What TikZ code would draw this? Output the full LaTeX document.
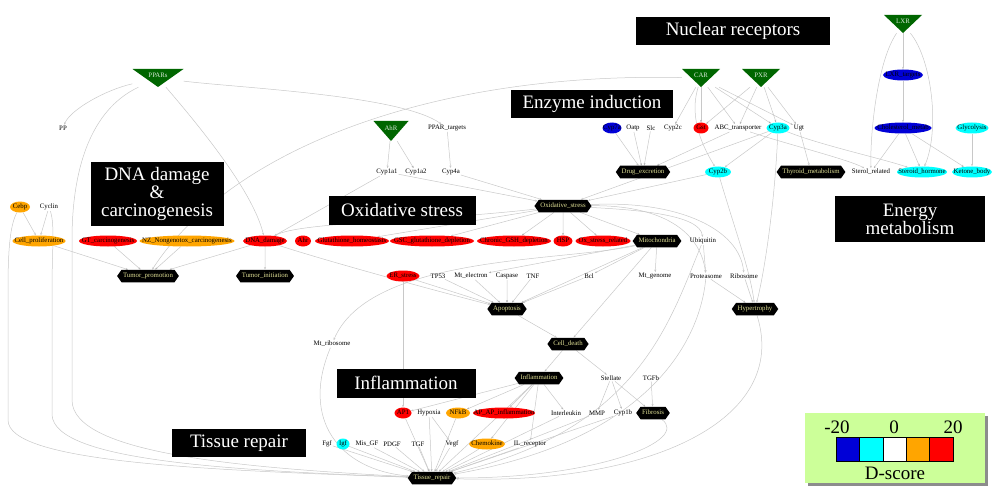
\documentclass[tikz,border=0pt]{standalone}
\usepackage{fontspec}
\setmainfont{Liberation Serif}
\usepackage{tikz}
\usetikzlibrary{arrows.meta}
\usetikzlibrary{shapes.geometric,shapes.symbols,shadows,backgrounds}

\definecolor{nrgreen}{RGB}{0,102,0}
\definecolor{upred}{RGB}{255,0,0}
\definecolor{uporange}{RGB}{255,165,0}
\definecolor{dncyan}{RGB}{0,255,255}
\definecolor{dnblue}{RGB}{0,0,215}
\definecolor{linkgray}{RGB}{200,200,200}
\definecolor{hextext}{RGB}{225,225,150}
\definecolor{legendbg}{RGB}{204,255,153}

\tikzset{
  small/.style={font=\fontsize{6.8}{7}\selectfont},
  gene/.style={small, inner sep=0.8pt},
  ell/.style={small, ellipse, inner sep=0pt, minimum height=11pt,
    text height=4.6pt, text depth=1.2pt,
    execute at begin node=\hbox to 0pt\bgroup\hss,
    execute at end node=\hss\egroup},
  redell/.style={ell, fill=upred},
  orangeell/.style={ell, fill=uporange},
  cyanell/.style={ell, fill=dncyan},
  blueell/.style={ell, fill=dnblue},
  proc/.style={small, shape=signal, signal to=west and east, signal pointer angle=110,
    fill=black, text=hextext, inner xsep=1.5pt, inner ysep=2pt, minimum height=12.5pt,
    text height=4.6pt, text depth=1.2pt},
  nr/.style={small, minimum width=38pt, minimum height=18pt, inner sep=0pt,
    text=white!85!nrgreen, text height=4.5pt, text depth=6pt,
    path picture={\fill[nrgreen] (path picture bounding box.north west) -- (path picture bounding box.north east) -- (path picture bounding box.south) -- cycle;}},
  topic/.style={fill=black, text=white, font=\fontsize{19}{18}\selectfont, align=center,
    inner sep=0pt, minimum height=28pt},
  link/.style={draw=linkgray, line width=0.5pt, -{Stealth[length=2.5pt,width=2pt]}},
  legbox/.style={fill=legendbg, minimum width=180pt, minimum height=70pt,
    drop shadow={shadow xshift=3pt, shadow yshift=-3pt, fill=black!45, opacity=1}},
  dcell/.style={draw=black, line width=0.6pt, minimum width=23.4pt, minimum height=24pt, inner sep=0pt},
  legtext/.style={font=\fontsize{19}{19}\selectfont, inner sep=0pt}
}

\begin{document}
\begin{tikzpicture}[x=1pt,y=-1pt]
		\useasboundingbox (0,0) rectangle (1000,497);
		% modules
		\node[topic, minimum width=194pt] (nuc) at (733,31) {Nuclear receptors};
		\node[topic, minimum width=162pt] (enz) at (592,104) {Enzyme induction};
		\node[topic, minimum width=133pt, minimum height=64pt] (dna) at (157,194) {DNA damage\\\&\\carcinogenesis};
		\node[topic, minimum width=147pt, minimum height=29pt] (oxs) at (402,210) {Oxidative stress};
		\node[topic, minimum width=150pt, minimum height=46pt] (ene) at (910,219) {Energy\\metabolism};
		\node[topic, minimum width=139pt, minimum height=29pt] (infl) at (406,383) {Inflammation};
		\node[topic, minimum width=134pt] (tis) at (239,443) {Tissue repair};
		% receptors
		\node[nr, minimum width=51pt] (ppar) at (158,78) {PPARs};
		\node[nr, minimum width=35pt, minimum height=20pt] (ahr) at (391,131) {AhR};
		\node[nr] (car) at (701,78) {CAR};
		\node[nr] (pxr) at (761,78) {PXR};
		\node[nr] (lxr) at (903,24) {LXR};
		% genes
		\node[gene] (pp) at (63,128) {PP};
		\node[gene] (ppt) at (447,128) {PPAR\_targets};
		\node[gene] (cyp1a1) at (387,172) {Cyp1a1};
		\node[gene] (cyp1a2) at (416,172) {Cyp1a2};
		\node[gene] (cyp4a) at (451,172) {Cyp4a};
		\node[gene] (cyclin) at (49,207) {Cyclin};
		\node[gene] (oatp) at (633,128) {Oatp};
		\node[gene] (slc) at (651,128) {Slc};
		\node[gene] (cyp2c) at (673,128) {Cyp2c};
		\node[gene] (abc) at (738,128) {ABC\_transporter};
		\node[gene] (ugt) at (799,128) {Ugt};
		\node[gene] (sterol) at (871,172) {Sterol\_related};
		\node[gene] (ubq) at (703,241) {Ubiquitin};
		\node[gene] (tp53) at (438,276) {TP53};
		\node[gene] (mtel) at (471,276) {Mt\_electron};
		\node[gene] (casp) at (507,276) {Caspase};
		\node[gene] (tnf) at (533,276) {TNF};
		\node[gene] (bcl) at (589,276) {Bcl};
		\node[gene] (mtgen) at (655,276) {Mt\_genome};
		\node[gene] (prot) at (706,276) {Proteasome};
		\node[gene] (ribo) at (744,276) {Ribosome};
		\node[gene] (mtribo) at (332,344) {Mt\_ribosome};
		\node[gene] (stel) at (611,378) {Stellate};
		\node[gene] (tgfb) at (651,378) {TGFb};
		\node[gene] (hyp) at (429,413) {Hypoxia};
		\node[gene] (il) at (566,413) {Interleukin};
		\node[gene] (mmp) at (597,413) {MMP};
		\node[gene] (cyp1b) at (623,413) {Cyp1b};
		\node[gene] (fgf) at (327,444) {Fgf};
		\node[gene] (misgf) at (367,444) {Mis\_GF};
		\node[gene] (pdgf) at (392,444) {PDGF};
		\node[gene] (tgf) at (418,444) {TGF};
		\node[gene] (vegf) at (452,444) {Vegf};
		\node[gene] (ilr) at (530,444) {IL\_receptor};
		% scored genes
		\node[orangeell, minimum width=20pt] (cebp) at (20,207) {Cebp};
		\node[orangeell, minimum width=53pt] (cellp) at (39,241) {Cell\_proliferation};
		\node[redell, minimum width=58pt] (gtc) at (108,241) {GT\_carcinogenesis};
		\node[orangeell, minimum width=95pt] (ngc) at (187,241) {NZ\_Nongenotox\_carcinogenesis};
		\node[redell, minimum width=44pt] (dnad) at (265,241) {DNA\_damage};
		\node[redell, minimum width=16pt] (ahrg) at (303,241) {Ahr};
		\node[redell, minimum width=74pt] (gsh) at (352,241) {Glutathione\_homeostasis};
		\node[redell, minimum width=84pt] (gsc) at (432,241) {GSC\_glutathione\_depletion};
		\node[redell, minimum width=74pt] (cgsh) at (514,241) {Chronic\_GSH\_depletion};
		\node[redell, minimum width=19pt] (hsp) at (563,241) {HSP};
		\node[redell, minimum width=55pt] (oxr) at (603,241) {Ox\_stress\_related};
		\node[redell, minimum width=33pt] (ers) at (403,276) {ER\_stress};
		\node[redell, minimum width=17pt] (ap1) at (403,413) {AP1};
		\node[orangeell, minimum width=24pt] (nfkb) at (458,413) {NFkB};
		\node[redell, minimum width=62pt] (apinf) at (504,413) {AP\_AP\_inflammation};
		\node[cyanell, minimum width=13pt] (igf) at (343,444) {Igf};
		\node[orangeell, minimum width=36pt] (chem) at (487,444) {Chemokine};
		\node[blueell, minimum width=19pt] (cyp7) at (612,128) {Cyp7a};
		\node[redell, minimum width=15pt] (gst) at (701,128) {Gst};
		\node[cyanell, minimum width=23pt] (cyp3a) at (778,128) {Cyp3a};
		\node[cyanell, minimum width=26pt] (cyp2b) at (718,172) {Cyp2b};
		\node[blueell, minimum width=40pt] (lxrt) at (903,75) {LXR\_targets};
		\node[blueell, minimum width=57pt] (chol) at (903,128) {Cholesterol\_metab};
		\node[cyanell, minimum width=33pt] (glyc) at (972,128) {Glycolysis};
		\node[cyanell, minimum width=50pt] (sth) at (922,172) {Steroid\_hormone};
		\node[cyanell, minimum width=40pt] (ket) at (972,172) {Ketone\_body};
		% processes
		\node[proc] (oxst) at (563,206) {Oxidative\_stress};
		\node[proc] (drug) at (643,172) {Drug\_excretion};
		\node[proc] (thyr) at (811,172) {Thyroid\_metabolism};
		\node[proc] (tprom) at (148,276) {Tumor\_promotion};
		\node[proc] (tinit) at (265,276) {Tumor\_initiation};
		\node[proc] (mito) at (657,241) {Mitochondria};
		\node[proc] (hyper) at (755,309) {Hypertrophy};
		\node[proc] (apop) at (507,309) {Apoptosis};
		\node[proc] (cdeath) at (568,344) {Cell\_death};
		\node[proc] (inflam) at (539,378) {Inflammation};
		\node[proc] (fib) at (653,413) {Fibrosis};
		\node[proc] (tisr) at (432,478) {Tissue\_repair};
		% legend
		\node[legbox] (legend) at (895,448) {};
		\foreach \c [count=\i] in {dnblue,dncyan,white,uporange,upred}
			\node[dcell, fill=\c] (cell\i) at (824.3+23.4*\i,449) {};
		\node[legtext] (lmin) at (837,427) {-20};
		\node[legtext] (lzero) at (894,427) {0};
		\node[legtext] (lmax) at (953,427) {20};
		\node[legtext] (dscore) at (895,473) {D-score};

		\begin{scope}[on background layer]
		% receptors
		\draw[link] (ppar) .. controls (105,90) and (70,110) .. (pp);
		\draw[link] (ppar) .. controls (240,88) and (400,95) .. (ppt);
		\draw[link] (ppar) .. controls (220,150) and (255,200) .. (dnad);
		\draw[link] (ppar) .. controls (90,110) and (72,170) .. (72,240) -- (72,400)
			.. controls (72,455) and (250,468) .. (tisr);
		\draw[link] (car) .. controls (430,72) and (230,150) .. (tprom);
		\draw[link] (ahr) edge (cyp1a1) edge (cyp1a2);
		\draw[link] (ppt) -- (cyp4a);
		\draw[link] (car) edge (cyp2c) edge (gst) edge (abc) edge (cyp3a) edge (ugt);
		\draw[link] (car) .. controls (688,120) and (705,150) .. (cyp2b);
		\draw[link] (pxr) edge (gst) edge (abc) edge (cyp3a) edge (ugt);
		\draw[link] (lxr) -- (lxrt);
		\draw[link] (lxr) .. controls (878,60) and (870,130) .. (sterol);
		\draw[link] (lxr) .. controls (932,60) and (940,130) .. (sth);
		% enzyme induction and energy
		\draw[link] (cyp7) edge (drug) (oatp) edge (drug) (slc) edge (drug) (abc) edge (drug);
		\draw[link] (cyp3a) -- (cyp2b);
		\draw[link] (ugt) -- (thyr);
		\draw[link] (abc) .. controls (790,145) and (850,160) .. (sterol);
		\draw[link] (cyp3a) .. controls (820,145) and (880,158) .. (sth);
		\draw[link] (lxrt) -- (chol);
		\draw[link] (chol) edge (sterol) edge (sth) edge (ket);
		\draw[link] (glyc) -- (ket);
		% carcinogenesis
		\draw[link] (cebp) -- (cellp);
		\draw[link] (cyclin) -- (cellp);
		\draw[link] (cellp) edge (tprom) (gtc) edge (tprom) (ngc) edge (tprom) (dnad) edge (tprom);
		\draw[link] (dnad) -- (tinit);
		\draw[link] (cebp) .. controls (10,225) and (8,250) .. (8,290) -- (8,420)
			.. controls (8,462) and (200,470) .. (tisr);
		\draw[link] (cyclin) .. controls (55,225) and (52,250) .. (52,290) -- (52,415)
			.. controls (55,460) and (220,470) .. (tisr);
		% oxidative stress
		\draw[link] (cyp1a1) -- (oxst);
		\draw[link] (cyp4a) -- (oxst);
		\draw[link] (cyp1a1) -- (dnad);
		\draw[link] (cyp3a) -- (oxst);
		\draw[link] (cyp2b) -- (oxst);
		\draw[link] (oxst) edge (gsh) edge (gsc) edge (cgsh) edge (hsp) edge (oxr) edge (mito);
		\draw[link] (oxst) .. controls (420,222) and (300,222) .. (dnad);
		\draw[link] (oxst) .. controls (640,210) and (700,215) .. (ubq);
		\draw[link] (oxst) .. controls (660,205) and (700,230) .. (prot);
		\draw[link] (oxst) .. controls (680,200) and (740,230) .. (ribo);
		% cell death
		\draw[link] (tp53) edge (apop) (mtel) edge (apop) (casp) edge (apop) (tnf) edge (apop) (bcl) edge (apop) (ers) edge (apop);
		\draw[link] (dnad) .. controls (330,262) and (440,292) .. (apop);
		\draw[link] (mito) edge (mtgen) edge (apop) edge (bcl) edge (mtel) edge (cdeath);
		\draw[link] (mito) .. controls (560,262) and (370,255) .. (mtribo);
		\draw[link] (ers) -- (ap1);
		\draw[link] (apop) -- (cdeath);
		\draw[link] (cdeath) edge (inflam) edge (stel);
		\draw[link] (stel) edge (mmp) edge (cyp1b) edge (fib);
		\draw[link] (tgfb) -- (fib);
		% hypertrophy
		\draw[link] (cyp2b) .. controls (735,230) and (750,270) .. (hyper);
		\draw[link] (cyp3a) .. controls (775,200) and (765,270) .. (hyper);
		\draw[link] (ubq) -- (prot);
		\draw[link] (prot) edge (hyper) (ribo) edge (hyper);
		% inflammation and tissue repair
		\draw[link] (inflam) edge (ap1) edge (nfkb) edge (apinf) edge (il) edge (chem) edge (ilr) edge (tisr);
		\draw[link] (hyp) -- (vegf);
		\draw[link] (fgf) edge (tisr) (igf) edge (tisr) (misgf) edge (tisr) (pdgf) edge (tisr) (tgf) edge (tisr) (vegf) edge (tisr);
		\draw[link] (chem) edge (tisr) (ilr) edge (tisr) (ap1) edge (tisr) (hyp) edge (tisr) (nfkb) edge (tisr);
		\draw[link] (il) edge (tisr) (mmp) edge (tisr) (cyp1b) edge (tisr);
		\draw[link] (mtribo) .. controls (300,420) and (340,470) .. (tisr);
		\draw[link] (fib) .. controls (690,440) and (600,478) .. (tisr);
		\draw[link] (hyper) .. controls (790,420) and (650,485) .. (tisr);
		\draw[link] (ubq) .. controls (670,320) and (640,430) .. (tisr);
		\draw[link] (prot) .. controls (700,340) and (650,440) .. (tisr);
		\end{scope}
\end{tikzpicture}
\end{document}
